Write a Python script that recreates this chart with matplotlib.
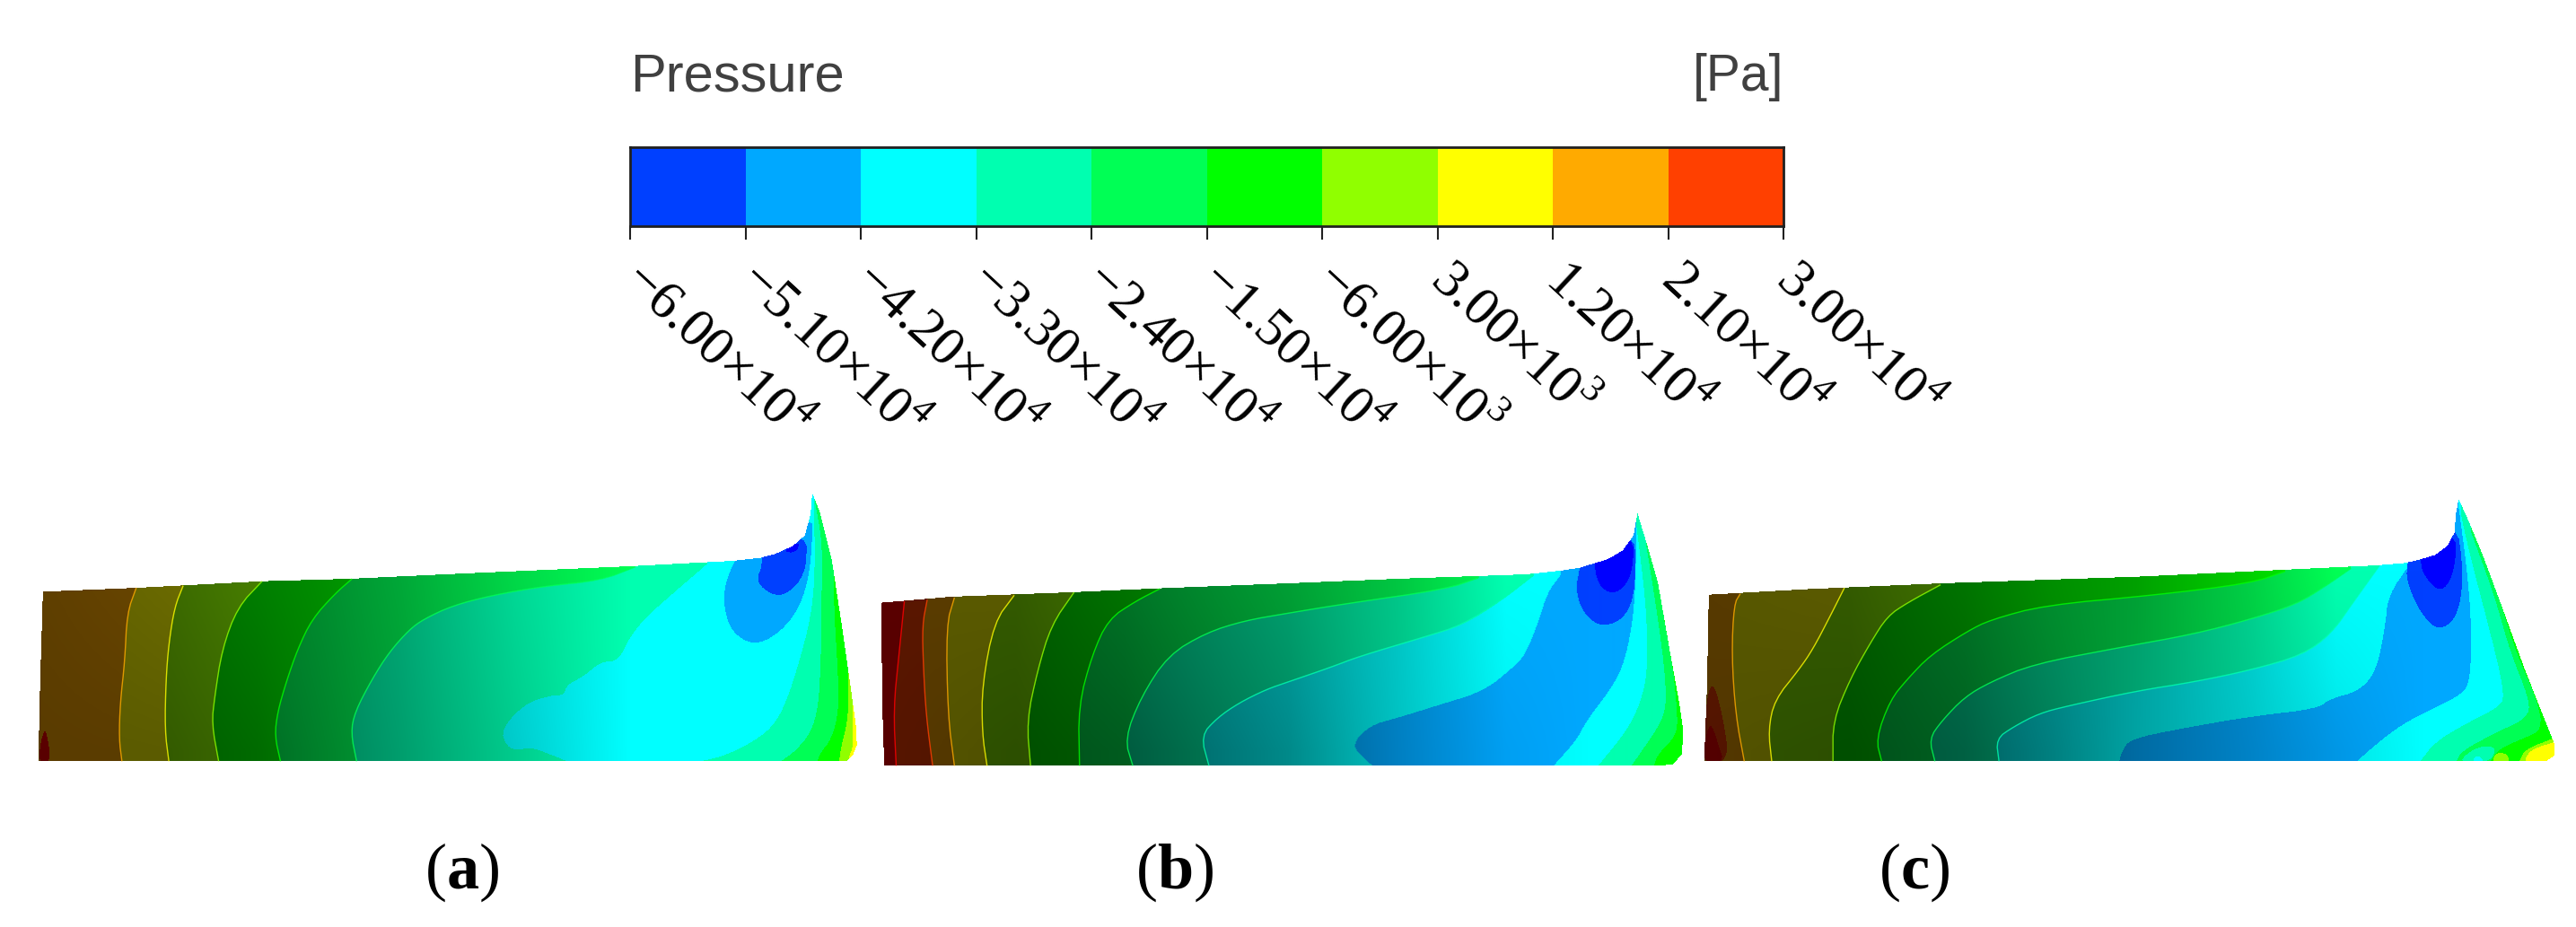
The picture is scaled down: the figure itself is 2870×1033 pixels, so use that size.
import numpy as np
import matplotlib
matplotlib.use("Agg")
import matplotlib.pyplot as plt
from matplotlib.colors import to_rgb, ListedColormap, BoundaryNorm
from matplotlib.path import Path

plt.rcParams['mathtext.fontset'] = 'custom'
plt.rcParams['mathtext.rm'] = 'Liberation Serif'
plt.rcParams['mathtext.bf'] = 'Liberation Serif:bold'

W, H = 2870, 1033

# legend
levels = [-6.0e4, -5.1e4, -4.2e4, -3.3e4, -2.4e4, -1.5e4, -6.0e3, 3.0e3, 1.2e4, 2.1e4, 3.0e4]
tick_labels = ['\u22126.00\u00d710$^{4}$', '\u22125.10\u00d710$^{4}$', '\u22124.20\u00d710$^{4}$',
               '\u22123.30\u00d710$^{4}$', '\u22122.40\u00d710$^{4}$', '\u22121.50\u00d710$^{4}$',
               '\u22126.00\u00d710$^{3}$', '3.00\u00d710$^{3}$', '1.20\u00d710$^{4}$',
               '2.10\u00d710$^{4}$', '3.00\u00d710$^{4}$']
# below-range blue first, above-range red last
band_colors = ['#0000ff', '#0040ff', '#00a8ff', '#00ffff', '#00ffb0', '#00ff55', '#00ff00',
               '#90ff00', '#ffff00', '#ffaa00', '#ff4000', '#ff0000']

# panel (a), read in crop units of the field
a_outline = [(67,955),(70,700),(75,388),(240,375),(460,353),(610,345),(800,328),(1100,303),(1280,285),
             (1328,275),(1354,262),(1385,235),(1406,200),(1416,130),(1419,58),(1432,120),(1453,280),
             (1469,480),(1484,680),(1495,830),(1497,900),(1490,935),(1479,955)]
a_base = 9
a_iso = [[(238,375),(222,460),(218,620),(210,760),(208,880),(213,955)],
         [(320,368),(305,440),(295,560),(290,680),(288,850),(295,955)],
         [(458,353),(415,440),(388,580),(375,740),(370,830),(382,955)],
         [(615,345),(585,395),(545,480),(520,580),(500,690),(485,790),(480,870),(490,955)],
         [(1110,305),(1050,350),(950,370),(860,400),(790,435),(740,480),(715,515),(680,590),(650,680),
          (620,790),(613,860),(623,955)],
         [(1235,296),(1190,370),(1130,470),(1100,540),(1080,620),(1050,622),(1020,670),(990,700),(985,735),
          (960,735),(915,765),(875,850),(885,905),(905,920),(925,905),(985,950),(990,955)]]
a_iso_bands = [8, 7, 6, 5, 4, 3]
a_right = [(4, [(1422,90),(1424,330),(1416,480),(1395,630),(1375,750),(1351,840),(1307,900),(1260,940),(1223,955)]),
           (5, [(1424,90),(1437,230),(1435,430),(1434,630),(1429,780),(1416,860),(1390,920),(1364,955)]),
           (6, [(1456,330),(1458,480),(1463,630),(1466,780),(1453,880),(1432,930),(1428,955)]),
           (7, [(1482,670),(1482,810),(1469,910),(1466,955)]),
           (8, [(1490,790),(1490,910),(1484,935)])]
a_pockets = [(11, [(67,960),(72,880),(80,840),(90,960)]),
             (2, [(1300,250),(1283,285),(1267,360),(1264,430),(1275,510),(1301,555),(1330,560),(1364,520),
                  (1390,460),(1406,390),(1415,310),(1419,210),(1419,130)]),
             (1, [(1330,200),(1332,300),(1322,345),(1333,380),(1361,405),(1385,380),(1401,340),(1409,290),(1409,200)]),
             (0, [(1369,255),(1390,258),(1398,225),(1385,230)])]
a_shade_x = [0, 300, 450, 550, 700, 900, 1100, 1250, 1600]
a_shade_top = [.36, .42, .50, .55, .66, .85, 1, 1, 1]
a_shade_bot = [.35, .36, .42, .50, .62, .80, 1, 1, 1]

# panel (b)
b_outline = [(58,970),(55,800),(52,425),(180,405),(400,390),(560,377),(800,360),(1000,345),(1237,330),
             (1303,317),(1336,308),(1358,295),(1386,280),(1414,250),(1434,200),(1441,125),(1457,220),
             (1479,360),(1501,590),(1518,760),(1525,850),(1523,930),(1507,965),(1480,970)]
b_base = 11
b_iso = [[(95,420),(85,600),(75,780),(80,970)],
         [(137,415),(128,500),(130,640),(135,800),(147,970)],
         [(187,408),(172,500),(175,800),(187,970)],
         [(297,400),(260,490),(238,700),(238,860),(247,970)],
         [(407,390),(365,500),(340,650),(320,820),(327,970)],
         [(565,378),(520,420),(470,480),(440,600),(415,770),(417,970)],
         [(1150,342),(1090,380),(900,430),(800,460),(720,485),(650,525),(580,600),(530,740),(500,880),(515,970)],
         [(1250,335),(1190,420),(1120,500),(1050,540),(930,605),(880,640),(800,690),(760,715),(710,760),
          (670,810),(640,870),(655,970)],
         [(1301,330),(1276,390),(1259,490),(1237,590),(1220,630),(1160,720),(1080,765),(1000,810),(950,835),
          (915,900),(945,955),(955,970)]]
b_iso_bands = [10, 9, 8, 7, 6, 5, 4, 3, 2]
b_right = [(3, [(1438,110),(1438,400),(1424,580),(1402,690),(1347,820),(1331,880),(1287,970)]),
           (4, [(1438,150),(1457,430),(1460,630),(1452,730),(1427,840),(1369,970)]),
           (5, [(1457,230),(1479,480),(1493,680),(1493,800),(1457,900),(1430,970)]),
           (6, [(1490,480),(1507,650),(1515,810),(1512,870),(1479,930),(1471,970)])]
b_pockets = [(1, [(1336,200),(1336,308),(1328,370),(1336,440),(1361,495),(1391,500),(1419,470),(1435,400),(1438,280),(1434,200)]),
             (0, [(1361,200),(1361,292),(1369,365),(1394,398),(1419,370),(1433,310),(1434,200)])]
b_shade_x = [0, 300, 500, 600, 800, 1000, 1200, 1350, 1600]
b_shade_top = [.35, .36, .46, .52, .63, .78, 1, 1, 1]
b_shade_bot = [.35, .31, .36, .42, .54, .76, .95, 1, 1]

# panel (c)
c_outline = [(45,955),(50,700),(53,398),(220,380),(460,360),(800,338),(1000,320),(1220,300),(1270,292),
             (1296,280),(1322,265),(1343,235),(1356,190),(1358,130),(1363,78),(1380,150),(1406,270),
             (1437,430),(1479,650),(1510,800),(1531,900),(1531,935),(1516,955)]
c_base = 9
c_iso = [[(108,395),(97,430),(93,600),(100,800),(115,955)],
         [(290,375),(265,470),(235,580),(210,650),(168,750),(157,850),(163,955)],
         [(458,365),(400,425),(365,470),(335,560),(300,680),(270,820),(270,955)],
         [(1060,320),(1000,360),(830,400),(640,433),(545,482),(505,520),(440,600),(400,680),(370,750),(345,880),(355,955)],
         [(1175,310),(1130,370),(1080,430),(1000,480),(900,530),(770,575),(620,630),(545,690),(500,740),(460,820),(438,880),(448,955)],
         [(1225,300),(1180,420),(1140,530),(1090,600),(1000,650),(900,690),(800,720),(680,770),(630,795),(585,840),(555,880),(560,955)],
         [(1280,290),(1240,400),(1235,500),(1220,650),(1190,720),(1140,745),(1115,780),(1000,805),(880,845),(790,880),(775,920),(770,955)]]
c_iso_bands = [8, 7, 6, 5, 4, 3, 2]
c_right = [(3, [(1362,90),(1380,350),(1386,550),(1382,690),(1369,730),(1322,775),(1270,825),(1230,880),(1185,955)]),
           (4, [(1367,130),(1382,260),(1408,450),(1432,630),(1442,730),(1437,770),(1375,830),(1322,890),(1296,955)]),
           (5, [(1385,190),(1427,410),(1453,590),(1487,750),(1484,810),(1427,860),(1369,920),(1359,955)]),
           (6, [(1437,430),(1463,590),(1500,750),(1510,850),(1474,880),(1432,915),(1419,955)]),
           (7, [(1526,880),(1479,915),(1469,955)]),
           (8, [(1531,890),(1490,915),(1480,945)])]
c_pockets = [(10, [(40,960),(50,735),(60,690),(75,780),(90,960)]),
             (11, [(40,960),(50,850),(58,830),(70,900),(80,960)]),
             (1, [(1290,170),(1273,292),(1272,350),(1291,440),(1317,505),(1338,510),(1359,470),(1369,390),(1369,280),(1360,170)]),
             (0, [(1296,195),(1296,282),(1301,330),(1327,388),(1348,360),(1359,270),(1356,195)]),
             (4, [(1359,960),(1395,905),(1430,905),(1418,960)]),
             (3, [(1385,960),(1395,930),(1410,960)]),
             (7, [(1429,925),(1448,930),(1453,960),(1420,960)])]
c_shade_x = [0, 300, 500, 650, 800, 1000, 1150, 1300, 1600]
c_shade_top = [.34, .36, .46, .56, .63, .82, 1, 1, 1]
c_shade_bot = [.33, .31, .38, .50, .64, .78, .90, 1, 1]

panel_letters = ['a', 'b', 'c']
panel_centres = [515, 1309, 2133]


def add_px_axes(fig, x0, y0, x1, y1):
    return fig.add_axes([x0 / W, 1 - y1 / H, (x1 - x0) / W, (y1 - y0) / H])


def smooth(line, closed=False, n=2):
    # corner cutting so the read-off polylines do not look faceted
    pts = np.array(line, dtype=float)
    for _ in range(n):
        a = pts if not closed else np.vstack([pts, pts[:1]])
        q = .75 * a[:-1] + .25 * a[1:]
        r = .25 * a[:-1] + .75 * a[1:]
        mid = np.empty((2 * len(q), 2))
        mid[0::2] = q
        mid[1::2] = r
        pts = mid if closed else np.vstack([a[:1], mid, a[-1:]])
    return pts


def right_of(line):
    # everything to the right of an isoline, as a closed path
    far = 3000
    s = smooth(line)
    tail = [(line[-1][0], 2000), (far, 2000), (far, -100), (line[0][0], -100)]
    return Path(np.vstack([s, tail]))


def draw_field(fig, px_range, x_off, x_scale, outline, base, iso, iso_bands, right, pockets, sx, st, sb):
    x0, x1 = px_range
    y0, y1 = 530, 1000
    ax = add_px_axes(fig, x0, y0, x1, y1)
    xlim = ((x0 - x_off) * x_scale, (x1 - x_off) * x_scale)
    ylim = (1410, 0)
    nx, ny = x1 - x0, y1 - y0
    xs = xlim[0] + (np.arange(nx) + .5) / nx * (xlim[1] - xlim[0])
    ys = (np.arange(ny) + .5) / ny * 1410
    xx, yy = np.meshgrid(xs, ys)
    pts = np.column_stack([xx.ravel(), yy.ravel()])

    idx = np.full(len(pts), base)
    for band, line in zip(iso_bands, iso):
        idx[right_of(line).contains_points(pts)] = band
    for band, line in right:
        idx[right_of(line).contains_points(pts)] = band
    for band, poly in pockets:
        s = smooth(poly, closed=True)
        idx[Path(np.vstack([s, s[:1]])).contains_points(pts)] = band

    rgb_table = np.array([to_rgb(c) for c in band_colors])
    top = np.interp(pts[:, 0], sx, st)
    bot = np.interp(pts[:, 0], sx, sb)
    t = np.clip((pts[:, 1] - 320) / 600, 0, 1)
    shade = top * (1 - t) + bot * t
    rgb = rgb_table[idx] * shade[:, None]
    inside = Path(outline + [outline[0]]).contains_points(pts)
    rgb[~inside] = 1
    ax.imshow(rgb.reshape(ny, nx, 3), extent=(xlim[0], xlim[1], ylim[0], ylim[1]),
              aspect='auto', interpolation='bilinear')

    # thin isolines stay at full colour, they show up on the dark side
    left_bands = [base] + list(iso_bands)
    for k, line in enumerate(iso[:-1]):
        s = smooth(line)
        ax.plot(s[:, 0], s[:, 1], color=band_colors[left_bands[k]], lw=1.0, alpha=.8, solid_capstyle='butt')
    ax.set_xlim(xlim)
    ax.set_ylim(ylim)
    ax.axis('off')


fig = plt.figure(figsize=(W / 100, H / 100), dpi=100, facecolor='white')

# colour bar
cax = add_px_axes(fig, 702, 164, 1987, 252)
cmap = ListedColormap(band_colors[1:11])
cax.pcolormesh(levels, [0, 1], np.array([levels[:-1]]) + 1,
               cmap=cmap, norm=BoundaryNorm(levels, cmap.N))
cax.set_yticks([])
cax.set_xticks(levels)
cax.set_xticklabels(tick_labels, family='Liberation Serif', fontsize=44)
cax.tick_params(axis='x', direction='out', length=11, width=1.5, pad=26, color='#202020')
for lab in cax.get_xticklabels():
    lab.set(rotation=-43, rotation_mode='anchor', ha='left', va='center')
for s in cax.spines.values():
    s.set_linewidth(2)
    s.set_color('#202020')

fig.text(702 / W, 1 - 101 / H, 'Pressure', family='Liberation Sans', fontsize=43, color='#404040',
         ha='left', va='baseline')
fig.text(1987 / W, 1 - 101 / H, '[Pa]', family='Liberation Sans', fontsize=41, color='#404040',
         ha='right', va='baseline')

draw_field(fig, (0, 965), 0, 1.568, a_outline, a_base, a_iso, a_iso_bands, a_right, a_pockets,
           a_shade_x, a_shade_top, a_shade_bot)
draw_field(fig, (965, 1885), 950, 1.65, b_outline, b_base, b_iso, b_iso_bands, b_right, b_pockets,
           b_shade_x, b_shade_top, b_shade_bot)
draw_field(fig, (1885, 2870), 1870, 1.568, c_outline, c_base, c_iso, c_iso_bands, c_right, c_pockets,
           c_shade_x, c_shade_top, c_shade_bot)

for letter, cx in zip(panel_letters, panel_centres):
    fig.text(cx / W, 1 - 972 / H, '($\\mathbf{%s}$)' % letter, family='Liberation Serif', fontsize=52,
             ha='center', va='center', color='black')

fig.savefig('out.png', dpi=100)
